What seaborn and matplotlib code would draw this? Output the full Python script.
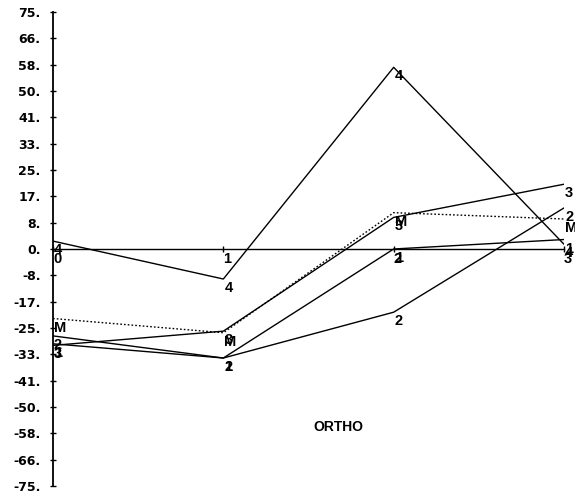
import numpy as np
import pandas as pd
import matplotlib
matplotlib.use("Agg")
import matplotlib.pyplot as plt
import matplotlib.transforms as mtransforms
import seaborn as sns

# ---- data ----
x_vals = [0, 1, 2, 3]
series_1 = [-30.0, -34.5, 0.0, 3.0]
series_2 = [-27.5, -34.5, -20.0, 13.0]
series_3 = [-30.5, -26.0, 10.0, 20.5]
series_4 = [2.5, -9.5, 57.5, 1.5]
series_M = [-22.0, -26.5, 11.5, 9.5]
series_names = ["1", "2", "3", "4", "M"]
x_tick_labels = ["0", "1", "2", "3"]
y_tick_labels = ["-75.", "-66.", "-58.", "-50.", "-41.", "-33.", "-25.", "-17.", "-8.",
                 "0.", "8.", "17.", "25.", "33.", "41.", "50.", "58.", "66.", "75."]
title_text = "ORTHO"

sns.set_style("white")
plt.rcParams['font.family'] = ['Liberation Sans', 'DejaVu Sans']
plt.rcParams['text.color'] = 'black'
plt.rcParams['xtick.color'] = 'black'
plt.rcParams['ytick.color'] = 'black'
plt.rcParams['axes.labelcolor'] = 'black'

rows = []
for name, vals in zip(series_names, [series_1, series_2, series_3, series_4, series_M]):
    for xv, yv in zip(x_vals, vals):
        rows.append({"x": xv, "y": yv, "series": name})
df = pd.DataFrame(rows)

fig = plt.figure(figsize=(5.75, 4.96), dpi=100)
ax = fig.add_axes([53/575, 1 - 486/496, (564 - 53)/575, (486 - 12)/496])

for name in series_names:
    sub = df[df["series"] == name]
    if name == "M":
        sns.lineplot(data=sub, x="x", y="y", ax=ax, color="black", lw=1.0,
                     linestyle=(0, (1.2, 1.5)), legend=False, sort=False)
    else:
        sns.lineplot(data=sub, x="x", y="y", ax=ax, color="black", lw=1.0,
                     legend=False, sort=False)
    offset = mtransforms.ScaledTranslation(1/100, -2/100, fig.dpi_scale_trans)
    for xv, yv in zip(sub["x"], sub["y"]):
        ax.text(xv, yv, name, ha="left", va="top", fontsize=10.5, fontweight="bold",
                color="black", transform=ax.transData + offset, clip_on=False)

ax.set_xlim(0, 3)
ax.set_ylim(-75, 75)
ax.set_xlabel("")
ax.set_ylabel("")

for s in ["top", "right"]:
    ax.spines[s].set_visible(False)
ax.spines["left"].set_linewidth(1.3)
ax.spines["left"].set_color("black")
ax.spines["bottom"].set_position(("data", 0))
ax.spines["bottom"].set_linewidth(1.0)
ax.spines["bottom"].set_color("black")

ax.set_yticks(np.linspace(-75, 75, 19))
ax.set_yticklabels(y_tick_labels, fontsize=9, fontweight="bold", family="DejaVu Sans", color="black")
ax.set_xticks(x_vals)
ax.set_xticklabels(x_tick_labels, fontsize=10.5, fontweight="bold", ha="left", color="black")
ax.tick_params(axis="y", direction="inout", length=5, width=1, pad=6.5, left=True, color="black")
ax.tick_params(axis="x", direction="inout", length=5, width=1, pad=0, bottom=True, color="black")

fig.text(338/575, 1 - 427/496, title_text, ha="center", va="center", fontsize=10,
         fontweight="bold", color="black")

fig.savefig("out.png", dpi=100)
